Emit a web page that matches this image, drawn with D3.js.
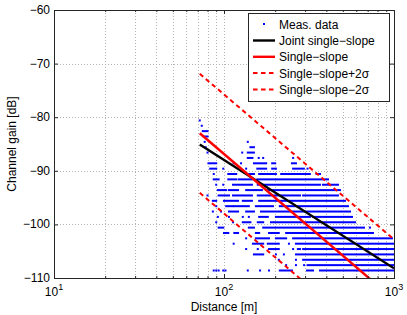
<!DOCTYPE html>
<html>
<head>
<meta charset="utf-8">
<script src="https://cdn.jsdelivr.net/npm/d3@7"></script>
<style>
  body { margin: 0; background: #fff; }
  text { font-family: "Liberation Sans", Arial, sans-serif; fill: #000; }
</style>
</head>
<body>
<div id="chart"></div>
<script>
// measured points, one row per gain level [dB]; each run is [from, to] distance in m
var rowGain = [-80.6, -81.6, -82.6, -83.6, -84.6, -85.6, -86.6, -87.6, -88.6, -89.6,
               -90.6, -91.6, -92.6, -93.6, -94.6, -95.6, -96.6, -97.6, -98.6, -99.6,
               -100.6, -101.6, -102.6, -103.6, -104.6, -105.6, -106.6, -107.6, -108.6];
var rowRuns = [
  [[72, 72]],
  [[74, 74]],
  [[75, 80]],
  [[76, 80]],
  [[77, 77], [138, 138]],
  [[78, 78], [143, 150]],
  [[80, 80], [128, 128], [138, 150]],
  [[138, 147], [160, 160], [170, 170], [255, 255]],
  [[81, 90], [114, 114], [126, 126], [150, 177], [192, 200], [251, 265]],
  [[83, 90], [99, 99], [135, 135], [157, 177], [192, 202], [255, 295], [310, 310]],
  [[87, 87], [106, 118], [138, 150], [161, 202], [217, 320], [350, 367]],
  [[87, 93], [106, 118], [122, 146], [157, 409]],
  [[90, 90], [99, 99], [113, 146], [158, 367], [382, 468]],
  [[92, 103], [107, 121], [135, 167], [181, 481]],
  [[80, 80], [93, 107], [113, 146], [158, 280], [292, 468]],
  [[86, 90], [100, 121], [129, 146], [161, 515]],
  [[90, 90], [103, 113], [115, 140], [154, 194], [213, 536]],
  [[86, 86], [96, 96], [107, 121], [135, 150], [165, 551]],
  [[92, 92], [107, 107], [129, 129], [140, 140], [161, 181], [202, 320], [334, 566]],
  [[90, 90], [113, 113], [129, 143], [158, 170], [189, 590]],
  [[93, 99], [140, 150], [170, 666], [722, 722]],
  [[100, 106], [115, 121], [154, 161], [184, 210], [232, 752]],
  [[135, 135], [154, 184], [202, 232], [255, 973]],
  [[114, 114], [148, 170], [181, 210], [241, 241], [265, 1000]],
  [[135, 135], [158, 158], [184, 210], [255, 255], [272, 280], [292, 1000]],
  [[150, 170], [202, 202], [225, 225], [265, 1000]],
  [[210, 210], [265, 265], [292, 1000]],
  [[232, 232], [265, 265], [296, 296], [310, 1000]],
  [[87, 87], [90, 90], [93, 93], [99, 99], [102, 102], [138, 138], [163, 163], [184, 184],
   [213, 251], [308, 334], [367, 1000]]
];

// fitted lines, end points
var fitDist = [72, 1000];
var jointGain = [-85.1, -108.2];
var singleGain = [-83.0, -114.0];
var plusGain = [-71.9, -102.8];
var minusGain = [-94.1, -125.1];

var yTicks = [-110, -100, -90, -80, -70, -60];
var xMajor = [10, 100, 1000];
var xExp = ["1", "2", "3"];
var xMinor = [20, 30, 40, 50, 60, 70, 80, 90, 200, 300, 400, 500, 600, 700, 800, 900];
var legendLabels = ["Meas. data", "Joint single\u2212slope", "Single\u2212slope",
                    "Single\u2212slope+2\u03c3", "Single\u2212slope\u22122\u03c3"];

var pLeft = 54, pRight = 394, pTop = 10, pBottom = 278;
var axisColor = "#262626";

var svg = d3.select("#chart")
  .append("svg")
    .attr("width", 407)
    .attr("height", 315);

var x = d3.scaleLog().domain([10, 1000]).range([pLeft, pRight]);
var y = d3.scaleLinear().domain([-110, -60]).range([pBottom, pTop]);

svg.append("defs").append("clipPath")
    .attr("id", "plot-clip")
  .append("rect")
    .attr("x", pLeft).attr("y", pTop)
    .attr("width", pRight - pLeft).attr("height", pBottom - pTop);

// grid
var grid = svg.append("g")
    .attr("stroke", "#b4b4b4")
    .attr("stroke-width", 1)
    .attr("stroke-dasharray", "1,2");
grid.selectAll(".gy")
  .data(yTicks.slice(1, -1))
  .enter().append("line")
    .attr("x1", pLeft).attr("x2", pRight)
    .attr("y1", function(d) { return Math.round(y(d)) + 0.5; })
    .attr("y2", function(d) { return Math.round(y(d)) + 0.5; });
grid.selectAll(".gx")
  .data(xMinor.concat([100]))
  .enter().append("line")
    .attr("y1", pTop).attr("y2", pBottom)
    .attr("x1", function(d) { return Math.round(x(d)) + 0.5; })
    .attr("x2", function(d) { return Math.round(x(d)) + 0.5; });

var plot = svg.append("g").attr("clip-path", "url(#plot-clip)");

// measurements
var pts = [];
rowGain.forEach(function(g, i) {
    rowRuns[i].forEach(function(r) { pts.push({g: g, d0: r[0], d1: r[1]}); });
});
plot.append("g")
  .selectAll("rect")
  .data(pts)
  .enter().append("rect")
    .attr("x", function(d) { return x(d.d0) - 1; })
    .attr("y", function(d) { return y(d.g) - 1; })
    .attr("width", function(d) { return x(d.d1) - x(d.d0) + 2; })
    .attr("height", 2)
    .attr("fill", "#0000ff");

var line = d3.line()
    .x(function(d) { return x(d[0]); })
    .y(function(d) { return y(d[1]); });

function fit(gains) {
    return fitDist.map(function(d, i) { return [d, gains[i]]; });
}

plot.append("path")
    .attr("d", line(fit(jointGain)))
    .attr("fill", "none").attr("stroke", "#000").attr("stroke-width", 2.4);
plot.append("path")
    .attr("d", line(fit(singleGain)))
    .attr("fill", "none").attr("stroke", "#ff0000").attr("stroke-width", 2.4);
[plusGain, minusGain].forEach(function(gs) {
    plot.append("path")
        .attr("d", line(fit(gs)))
        .attr("fill", "none").attr("stroke", "#ff0000").attr("stroke-width", 2)
        .attr("stroke-dasharray", "4.5,3.5");
});

// axes box and ticks
function ticks(g) {
    g.select(".domain").remove();
    g.selectAll(".tick line").attr("stroke", axisColor);
}
svg.append("g").attr("transform", "translate(0," + pBottom + ")")
    .call(d3.axisBottom(x).tickValues(xMajor).tickSize(-4).tickFormat("")).call(ticks);
svg.append("g").attr("transform", "translate(0," + pBottom + ")")
    .call(d3.axisBottom(x).tickValues(xMinor).tickSize(-2).tickFormat("")).call(ticks);
svg.append("g").attr("transform", "translate(0," + pTop + ")")
    .call(d3.axisTop(x).tickValues(xMajor).tickSize(-4).tickFormat("")).call(ticks);
svg.append("g").attr("transform", "translate(0," + pTop + ")")
    .call(d3.axisTop(x).tickValues(xMinor).tickSize(-2).tickFormat("")).call(ticks);
svg.append("g").attr("transform", "translate(" + pLeft + ",0)")
    .call(d3.axisLeft(y).tickValues(yTicks).tickSize(-4).tickFormat("")).call(ticks);
svg.append("g").attr("transform", "translate(" + pRight + ",0)")
    .call(d3.axisRight(y).tickValues(yTicks).tickSize(-4).tickFormat("")).call(ticks);

svg.append("rect")
    .attr("x", pLeft + 0.5).attr("y", pTop + 0.5)
    .attr("width", pRight - pLeft).attr("height", pBottom - pTop)
    .attr("fill", "none").attr("stroke", axisColor);

// tick labels
svg.append("g").selectAll("text")
  .data(yTicks)
  .enter().append("text")
    .attr("x", pLeft - 4)
    .attr("y", function(d) { return y(d) + 4; })
    .attr("text-anchor", "end")
    .style("font-size", "12px")
    .text(function(d) { return "\u2212" + (-d); });

var xl = svg.append("g").selectAll("text")
  .data(xMajor)
  .enter().append("text")
    .attr("x", function(d) { return x(d); })
    .attr("y", 296)
    .attr("text-anchor", "middle")
    .style("font-size", "12px");
xl.append("tspan").text("10");
xl.append("tspan")
    .attr("dy", -6)
    .style("font-size", "9px")
    .text(function(d, i) { return xExp[i]; });

svg.append("text")
    .attr("x", (pLeft + pRight) / 2)
    .attr("y", 311)
    .attr("text-anchor", "middle")
    .style("font-size", "12px")
    .text("Distance [m]");

svg.append("text")
    .attr("transform", "translate(16," + ((pTop + pBottom) / 2) + ") rotate(-90)")
    .attr("text-anchor", "middle")
    .style("font-size", "12px")
    .text("Channel gain [dB]");

// legend
var lg = svg.append("g");
lg.append("rect")
    .attr("x", 248.5).attr("y", 13.5)
    .attr("width", 141).attr("height", 88)
    .attr("fill", "#fff").attr("stroke", axisColor);
var rowsY = [24, 40.5, 56.8, 73, 89.5];
lg.append("rect")
    .attr("x", 263).attr("y", rowsY[0] - 1)
    .attr("width", 2).attr("height", 2)
    .attr("fill", "#0000ff");
var sample = [
    {c: "#000", w: 2.4, dash: null},
    {c: "#ff0000", w: 2.4, dash: null},
    {c: "#ff0000", w: 2, dash: "4.5,3.5"},
    {c: "#ff0000", w: 2, dash: "4.5,3.5"}
];
sample.forEach(function(s, i) {
    lg.append("line")
        .attr("x1", 253).attr("x2", 275)
        .attr("y1", rowsY[i + 1]).attr("y2", rowsY[i + 1])
        .attr("stroke", s.c).attr("stroke-width", s.w)
        .attr("stroke-dasharray", s.dash);
});
lg.selectAll(".lt")
  .data(legendLabels)
  .enter().append("text")
    .attr("x", 279)
    .attr("y", function(d, i) { return rowsY[i] + 4.5; })
    .style("font-size", "12px")
    .text(function(d) { return d; });
</script>
</body>
</html>
